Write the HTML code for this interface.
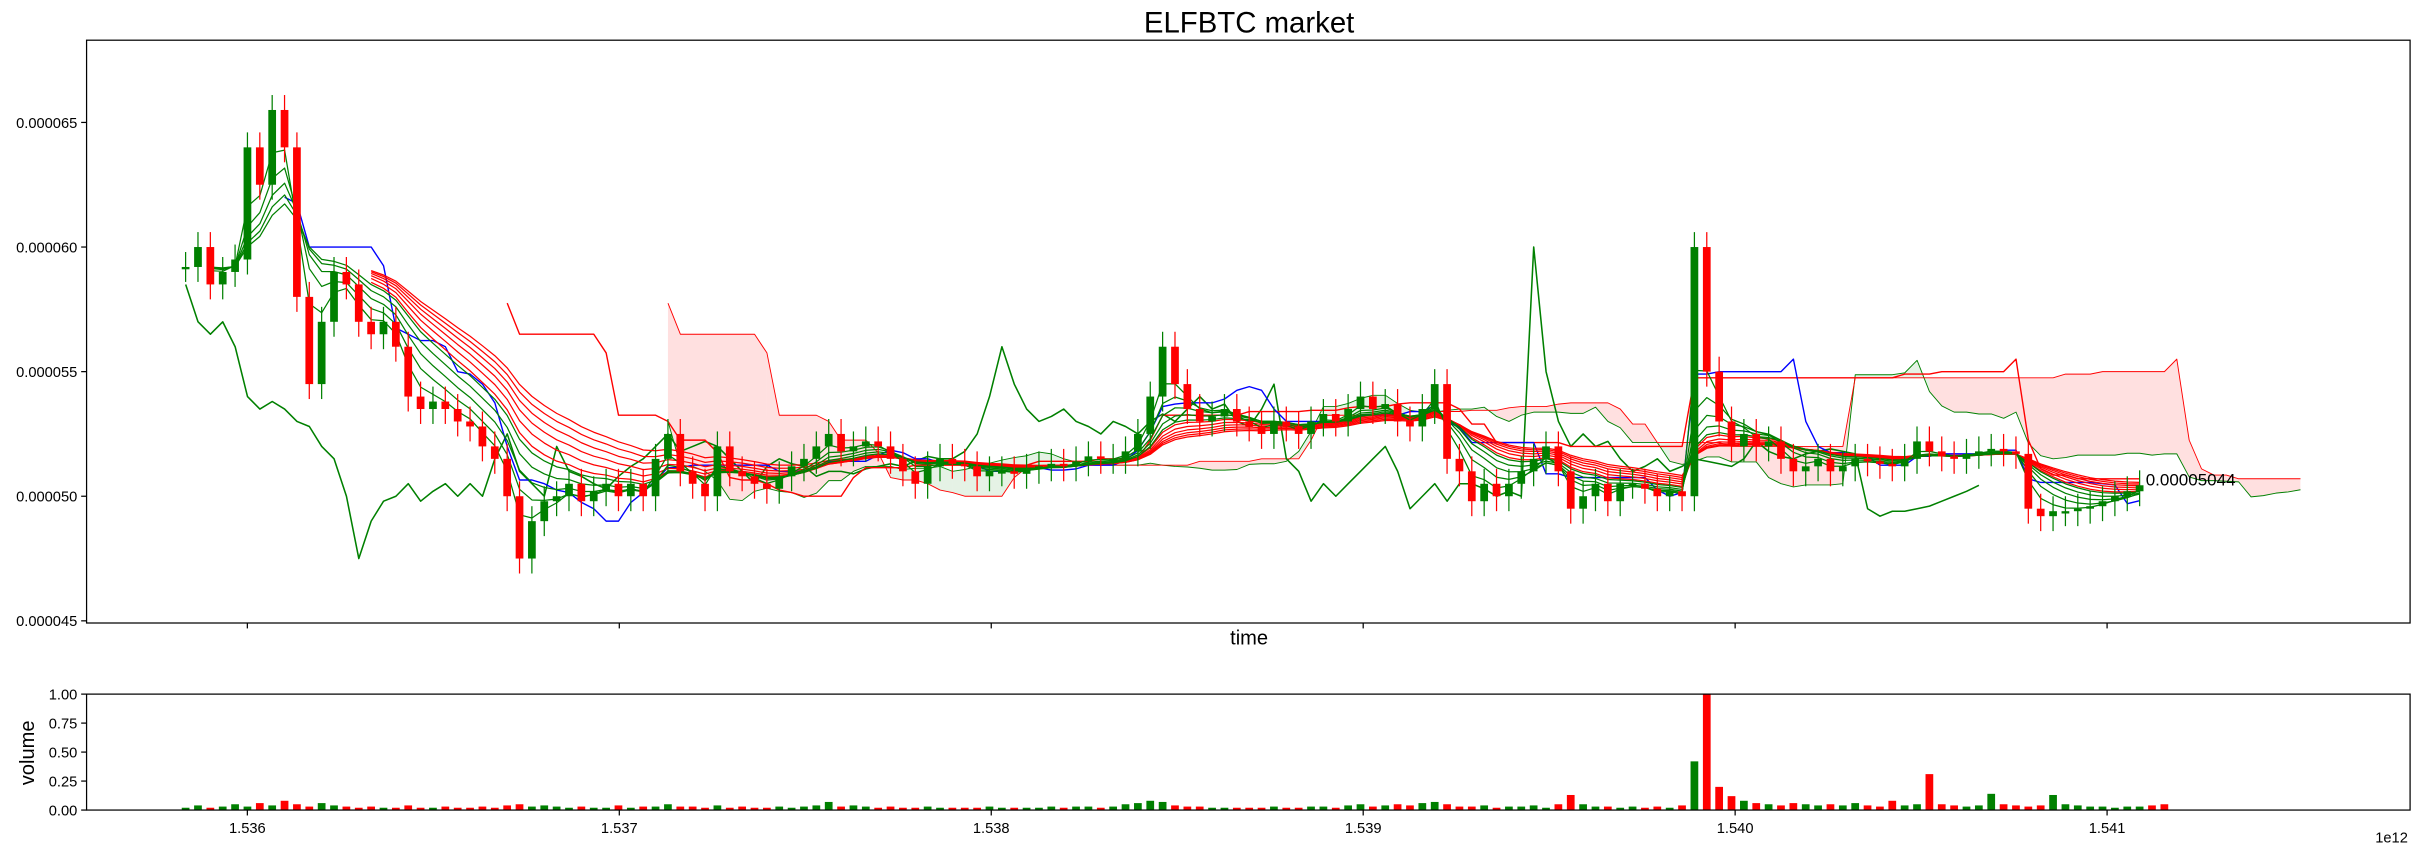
<!DOCTYPE html>
<html><head><meta charset="utf-8"><style>
html,body{margin:0;padding:0;background:#fff}
svg{display:block}
text{font-family:"Liberation Sans","DejaVu Sans",sans-serif}
</style></head><body>
<svg id="chart" width="2424" height="862" viewBox="0 0 1568 557.6" xmlns="http://www.w3.org/2000/svg">
<text x="808" y="21" text-anchor="middle" font-size="19">ELFBTC market</text>
<g id="main"></g>
<g id="vol"></g>
<text x="808" y="417" text-anchor="middle" font-size="13">time</text>
<text x="22" y="487" text-anchor="middle" font-size="13" transform="rotate(-90 22 487)">volume</text>
<text x="1547" y="545" text-anchor="middle" font-size="9.5">1e12</text>
</svg>
<script>
// ---- data ----
const startTime = 1.535834; // x1e12 ms
const stepTime = 0.03325e-3;
const closes = [592,600,585,590,595,640,625,655,640,580,545,570,590,585,570,565,570,560,540,535,538,535,530,528,520,515,500,475,490,498,500,505,498,502,505,500,505,500,515,525,510,505,500,520,510,508,505,503,508,512,515,520,525,518,520,522,520,515,510,505,512,515,513,512,508,510,510,509,511,512,513,512,514,516,515,515,518,525,540,560,545,535,530,532,535,530,528,525,530,528,525,530,533,530,535,540,535,537,530,528,535,545,515,510,498,505,500,505,510,515,520,510,495,500,505,498,505,505,503,500,502,500,600,550,530,520,525,520,522,515,510,512,515,510,512,515,514,513,512,515,522,518,516,515,517,518,519,518,517,495,492,494,494,495,496,498,500,502,504.4].map(v=>v*1e-7);
const volumes = [0.02,0.04,0.02,0.03,0.05,0.03,0.06,0.04,0.08,0.05,0.03,0.06,0.04,0.03,0.02,0.03,0.02,0.02,0.04,0.02,0.02,0.03,0.02,0.02,0.03,0.02,0.04,0.05,0.03,0.04,0.03,0.02,0.03,0.02,0.02,0.04,0.02,0.03,0.03,0.05,0.03,0.03,0.02,0.04,0.02,0.03,0.02,0.02,0.03,0.02,0.03,0.04,0.07,0.03,0.04,0.03,0.02,0.03,0.02,0.02,0.03,0.02,0.02,0.02,0.02,0.03,0.02,0.02,0.02,0.02,0.03,0.02,0.03,0.03,0.02,0.03,0.05,0.06,0.08,0.07,0.04,0.03,0.03,0.02,0.02,0.02,0.02,0.02,0.03,0.02,0.02,0.03,0.03,0.02,0.04,0.05,0.03,0.04,0.05,0.04,0.06,0.07,0.05,0.03,0.03,0.04,0.02,0.03,0.03,0.04,0.02,0.05,0.13,0.05,0.03,0.03,0.02,0.03,0.02,0.03,0.02,0.04,0.42,1.0,0.2,0.12,0.08,0.06,0.05,0.04,0.06,0.05,0.04,0.05,0.04,0.06,0.04,0.03,0.08,0.04,0.05,0.31,0.05,0.04,0.03,0.04,0.14,0.05,0.04,0.03,0.04,0.13,0.05,0.04,0.03,0.03,0.02,0.03,0.03,0.04,0.05];
const yTicks = [0.000045,0.000050,0.000055,0.000060,0.000065];
const yTickLabels = ["0.000045","0.000050","0.000055","0.000060","0.000065"];
const xTicks = [1.536,1.537,1.538,1.539,1.540,1.541];
const xTickLabels = ["1.536","1.537","1.538","1.539","1.540","1.541"];
const vTicks = [0,0.25,0.5,0.75,1.0];
const vTickLabels = ["0.00","0.25","0.50","0.75","1.00"];

// ---- axes ----
const M={l:56,r:1559,t:26,b:403}, V={t:449,b:524};
const X=t=>160+(t-1.536)/0.001*240.6;
const Y=v=>321-(v-0.00005)/0.000005*80.6;
const VY=v=>V.b-v*(V.b-V.t);
const NS="http://www.w3.org/2000/svg";
function mk(tag,attrs,parent,name){const e=document.createElementNS(NS,tag);for(const k in attrs)e.setAttribute(k,attrs[k]);


parent.appendChild(e);return e;}
const main=document.getElementById('main'), vol=document.getElementById('vol');
const N=closes.length;
const T=i=>startTime+i*stepTime;
const opens=closes.map((c,i)=>i?closes[i-1]:c);
const highs=closes.map((c,i)=>Math.max(c,opens[i])+0.0000006);
const lows=closes.map((c,i)=>Math.min(c,opens[i])-0.0000006);

function ema(p){const out=[];let e=closes[0];const k=2/(p+1);closes.forEach((c,i)=>{e=i?c*k+e*(1-k):c;out.push(e)});return out;}
function mid(p){return closes.map((c,i)=>{if(i<p-1)return null;let h=-1,l=1;for(let j=i-p+1;j<=i;j++){h=Math.max(h,highs[j]);l=Math.min(l,lows[j]);}return (h+l)/2;});}
function line(vals,off,from,color,w,name,parent){let d="";vals.forEach((v,i)=>{if(v==null||i<from)return;d+=(d?"L":"M")+X(T(i+off)).toFixed(1)+","+Y(v).toFixed(1);});
mk('path',{d:d,fill:'none',stroke:color,'stroke-width':w,'stroke-linejoin':'round'},parent||main,name);}

// cloud
const tenkan=mid(5), kijun=mid(13), spanB=mid(26), shift=13;
const spanA=tenkan.map((t,i)=>(t!=null&&kijun[i]!=null)?(t+kijun[i])/2:null);
for(let i=26;i<N-1;i++){
  const a0=spanA[i],a1=spanA[i+1],b0=spanB[i],b1=spanB[i+1];
  const x0=X(T(i+shift)),x1=X(T(i+1+shift));
  mk('polygon',{points:`${x0},${Y(a0)} ${x1},${Y(a1)} ${x1},${Y(b1)} ${x0},${Y(b0)}`,fill:a0>=b0?'rgba(0,128,0,0.1)':'rgba(255,0,0,0.12)',stroke:'none'},main,'cloud-segment');
}
line(spanA,shift,26,'green',0.6,'senkou-span-a');
line(spanB,shift,26,'red',0.6,'senkou-span-b');
line(closes.map((c,i)=>i>=shift?c:null),-shift,shift,'green',1,'chikou-span');
line(mid(26),0,26,'red',0.9,'kijun-line');
line(mid(8),0,8,'blue',0.9,'tenkan-line');
[12,14,16,18,20,22].forEach(p=>line(ema(p),0,15,'red',0.8,'ema-red-'+p));
[3,5,7,9,11].forEach(p=>line(ema(p),0,2,'green',0.8,'ema-green-'+p));

// candles
closes.forEach((c,i)=>{
  const o=opens[i],up=c>=o,col=up?'green':'red',x=X(T(i));
  mk('line',{x1:x,x2:x,y1:Y(highs[i]),y2:Y(lows[i]),stroke:col,'stroke-width':0.8},main,'candle-wick');
  const y1=Y(Math.max(o,c)),y2=Y(Math.min(o,c));
  mk('rect',{x:x-2.5,y:y1,width:5,height:Math.max(1.5,y2-y1),fill:col},main,'candle-body');
});
mk('text',{x:1388,y:314,'font-size':11},main,'last-price-label').textContent=(closes[N-1]).toFixed(8);

// volume bars
volumes.forEach((v,i)=>{const x=X(T(i));
  mk('rect',{x:x-2.5,y:VY(v),width:5,height:V.b-VY(v),fill:closes[i]>=opens[i]?'green':'red'},vol,'volume-bar');});

// frames & ticks
mk('rect',{x:M.l,y:M.t,width:M.r-M.l,height:M.b-M.t,fill:'none',stroke:'#000','stroke-width':0.8},main,'price-axes-frame');
mk('rect',{x:M.l,y:V.t,width:M.r-M.l,height:V.b-V.t,fill:'none',stroke:'#000','stroke-width':0.8},vol,'volume-axes-frame');
yTicks.forEach((v,i)=>{const y=Y(v);
  mk('line',{x1:M.l-3.5,x2:M.l,y1:y,y2:y,stroke:'#000','stroke-width':0.8},main,'y-tick');
  const t=mk('text',{x:M.l-6,y:y+3.5,'font-size':9.5,'text-anchor':'end'},main,'y-tick-label');t.textContent=yTickLabels[i];});
vTicks.forEach((v,i)=>{const y=VY(v);
  mk('line',{x1:M.l-3.5,x2:M.l,y1:y,y2:y,stroke:'#000','stroke-width':0.8},vol,'volume-y-tick');
  const t=mk('text',{x:M.l-6,y:y+3.5,'font-size':9.5,'text-anchor':'end'},vol,'volume-y-tick-label');t.textContent=vTickLabels[i];});
xTicks.forEach((v,i)=>{const x=X(v);
  mk('line',{x1:x,x2:x,y1:M.b,y2:M.b+3.5,stroke:'#000','stroke-width':0.8},main,'x-tick');
  mk('line',{x1:x,x2:x,y1:V.b,y2:V.b+3.5,stroke:'#000','stroke-width':0.8},vol,'volume-x-tick');
  const t=mk('text',{x:x,y:V.b+15,'font-size':9.5,'text-anchor':'middle'},vol,'x-tick-label');t.textContent=xTickLabels[i];});
</script>
</body></html>
